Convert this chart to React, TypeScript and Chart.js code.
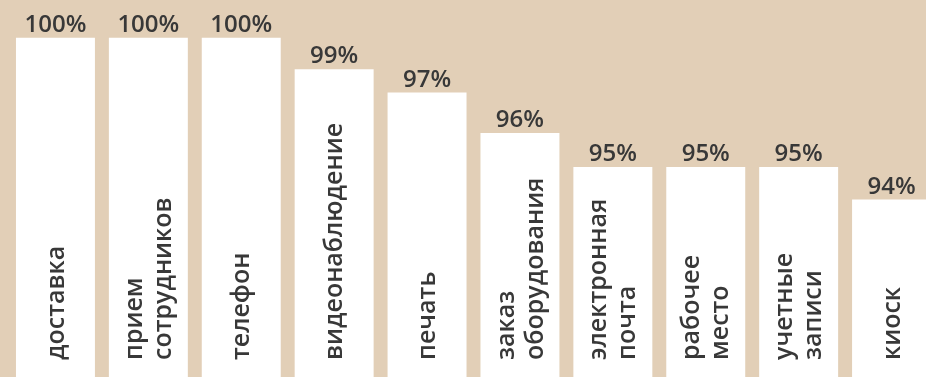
import React, { useEffect, useRef } from "react";
import { Chart, registerables } from "chart.js";

Chart.register(...registerables);

const categories: string[][] = [
  ["доставка"],
  ["прием", "сотрудников"],
  ["телефон"],
  ["видеонаблюдение"],
  ["печать"],
  ["заказ", "оборудования"],
  ["электронная", "почта"],
  ["рабочее", "место"],
  ["учетные", "записи"],
  ["киоск"],
];

// displayed percentages
const percentLabels: number[] = [100, 100, 100, 99, 97, 96, 95, 95, 95, 94];

// bar heights
const barValues: number[] = [100, 100, 100, 98.8, 97.9, 96.35, 95.05, 95.05, 95.05, 93.8];

const BG = "#e2cfb7";
const TEXT = "#383838";
const FONT = "'Open Sans', 'Noto Sans', sans-serif";

const labelsPlugin = {
  id: "barLabels",
  afterDatasetsDraw(chart: any) {
    const { ctx, chartArea } = chart;
    const meta = chart.getDatasetMeta(0);
    ctx.save();
    meta.data.forEach((bar: any, i: number) => {
      // percentage above bar
      ctx.fillStyle = TEXT;
      ctx.font = `600 24px ${FONT}`;
      ctx.textAlign = "center";
      ctx.textBaseline = "alphabetic";
      ctx.fillText(`${percentLabels[i]}%`, bar.x, bar.y - 6);

      // rotated category label inside bar
      const lines = categories[i];
      const lh = 29;
      ctx.save();
      ctx.translate(bar.x, chartArea.bottom - 17);
      ctx.rotate(-Math.PI / 2);
      ctx.font = `600 25px ${FONT}`;
      ctx.textAlign = "left";
      ctx.textBaseline = "middle";
      lines.forEach((line, j) => {
        ctx.fillText(line, 0, (j - (lines.length - 1) / 2) * lh + 1);
      });
      ctx.restore();
    });
    ctx.restore();
  },
};

export default function App() {
  const ref = useRef<HTMLCanvasElement | null>(null);

  useEffect(() => {
    if (!ref.current) return;
    const chart = new Chart(ref.current, {
      type: "bar",
      data: {
        labels: categories.map((c) => c.join(" ")),
        datasets: [
          {
            data: barValues,
            backgroundColor: "#ffffff",
            borderWidth: 0,
            barPercentage: 0.85,
            categoryPercentage: 1,
          },
        ],
      },
      options: {
        animation: false,
        responsive: true,
        maintainAspectRatio: false,
        layout: { padding: { left: 9, right: 0, top: 0, bottom: 0 } },
        plugins: {
          legend: { display: false },
          tooltip: { enabled: false },
        },
        scales: {
          x: { display: false },
          y: { display: false, min: 87, max: 101.45 },
        },
      },
      plugins: [labelsPlugin],
    });
    return () => chart.destroy();
  }, []);

  return (
    <div
      style={{
        position: "fixed",
        left: 0,
        top: 0,
        width: 926,
        height: 377,
        overflow: "hidden",
        background: BG,
      }}
    >
      <div style={{ position: "absolute", left: 0, top: 0, width: 938, height: 377 }}>
        <canvas ref={ref} />
      </div>
    </div>
  );
}
